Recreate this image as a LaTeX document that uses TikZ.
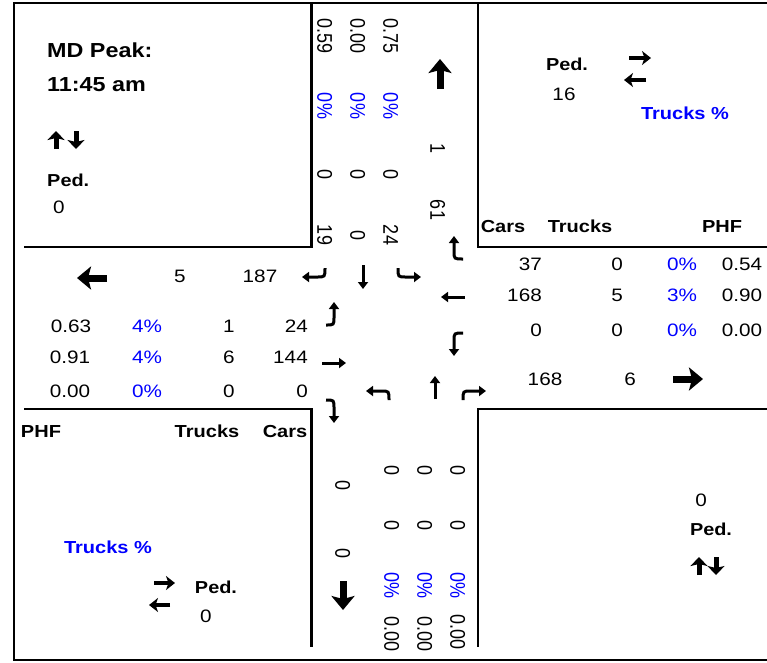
\documentclass[tikz,border=0pt]{standalone}
\usepackage{fontspec}
\setmainfont{Liberation Sans}
\usetikzlibrary{arrows.meta}
\begin{document}
\begin{tikzpicture}[x=1pt,y=-1pt,
  every node/.style={inner sep=0pt,text height=13pt,text depth=0pt},
  txt/.style={xscale=1.15,font=\fontsize{18}{20}\selectfont},
  btxt/.style={xscale=1.15,font=\fontsize{17.4}{20}\selectfont\bfseries},
  ttl/.style={xscale=1.15,font=\fontsize{20.3}{22}\selectfont\bfseries,text height=14.5pt},
  ped/.style={xscale=1.15,font=\fontsize{17.3}{20}\selectfont\bfseries},
  rot/.style={rotate=-90,yscale=1.18,font=\fontsize{18}{20}\selectfont},
  blu/.style={text=blue},
  frame/.style={line width=2.6pt},
  bigarr/.style={line width=7pt,-{Stealth[length=14pt,width=23pt,inset=3pt]}},
  medarr/.style={line width=5pt,-{Stealth[length=9pt,width=17pt,inset=2pt]}},
  smarr/.style={line width=4pt,-{Stealth[length=9pt,width=14pt,inset=2.5pt]}},
  turn/.style={line width=3pt,-{Triangle[length=7pt,width=10pt]}}]
\useasboundingbox (0,0) rectangle (767,662);
% frame
\draw[frame] (780,3) -- (14,3) -- (14,660) -- (780,660);
\draw[frame] (311.5,3) -- (311.5,247) -- (24,247);
\draw[frame] (478,3) -- (478,247) -- (780,247);
\draw[frame] (24,409) -- (311.5,409) -- (311.5,647);
\draw[frame] (780,409) -- (478,409) -- (478,647);
% top-left box
\node[ttl,anchor=west] (tl1) at (47,50) {MD Peak:};
\node[ttl,anchor=west] (tl2) at (47,84) {11:45 am};
\node[ped,anchor=west] (tl3) at (47,180) {Ped.};
\node[txt] (tl4) at (59,207) {0};
\draw[medarr] (56,149) -- (56,131);
\draw[medarr] (76,131) -- (76,149);
% top-right box
\node[ped] (tr1) at (567,64) {Ped.};
\node[txt] (tr2) at (564,94) {16};
\node[btxt,blu] (tr3) at (685,113) {Trucks \%};
\draw[smarr] (629,58) -- (651,58);
\draw[smarr] (646,80) -- (624,80);
\node[btxt] (hr1) at (503,226) {Cars};
\node[btxt] (hr2) at (580,226) {Trucks};
\node[btxt] (hr3) at (722,226) {PHF};
% right rows
\node[txt,anchor=east] (r1a) at (542,264) {37};
\node[txt] (r1b) at (617,264) {0};
\node[txt,blu] (r1c) at (682,264) {0\%};
\node[txt] (r1d) at (742,264) {0.54};
\node[txt,anchor=east] (r2a) at (542,295) {168};
\node[txt] (r2b) at (617,295) {5};
\node[txt,blu] (r2c) at (682,295) {3\%};
\node[txt] (r2d) at (742,295) {0.90};
\node[txt,anchor=east] (r3a) at (542,330) {0};
\node[txt] (r3b) at (617,330) {0};
\node[txt,blu] (r3c) at (682,330) {0\%};
\node[txt] (r3d) at (742,330) {0.00};
\node[txt] (r4a) at (545,379) {168};
\node[txt] (r4b) at (630,379) {6};
\draw[bigarr] (673,379) -- (703,379);
% left rows
\draw[bigarr] (107,278) -- (77,278);
\node[txt] (l0a) at (180,276) {5};
\node[txt] (l0b) at (260,276) {187};
\node[txt] (l1a) at (71,326) {0.63};
\node[txt,blu] (l1b) at (147,326) {4\%};
\node[txt] (l1c) at (229,326) {1};
\node[txt,anchor=east] (l1d) at (308,326) {24};
\node[txt] (l2a) at (70,357) {0.91};
\node[txt,blu] (l2b) at (147,357) {4\%};
\node[txt] (l2c) at (229,357) {6};
\node[txt,anchor=east] (l2d) at (308,357) {144};
\node[txt] (l3a) at (70,391) {0.00};
\node[txt,blu] (l3b) at (147,391) {0\%};
\node[txt] (l3c) at (229,391) {0};
\node[txt,anchor=east] (l3d) at (308,391) {0};
\node[btxt] (hl1) at (41,431) {PHF};
\node[btxt] (hl2) at (207,431) {Trucks};
\node[btxt] (hl3) at (285,431) {Cars};
% bottom-left box
\node[btxt,blu] (bl1) at (108,547) {Trucks \%};
\node[ped] (bl2) at (216,587) {Ped.};
\node[txt] (bl3) at (206,616) {0};
\draw[smarr] (154,583) -- (175,583);
\draw[smarr] (170,605) -- (149,605);
% bottom-right box
\node[txt] (br1) at (701,500) {0};
\node[ped] (br2) at (711,529) {Ped.};
\draw[medarr] (699,575) -- (699,557);
\draw[medarr] (716,557) -- (716,575);
% top approach (rotated)
\node[rot] (n1a) at (325,36) {0.59};
\node[rot,blu] (n1b) at (325,106) {0\%};
\node[rot] (n1c) at (325,174) {0};
\node[rot] (n1d) at (325,235) {19};
\node[rot] (n2a) at (358,36) {0.00};
\node[rot,blu] (n2b) at (358,106) {0\%};
\node[rot] (n2c) at (358,174) {0};
\node[rot] (n2d) at (358,235) {0};
\node[rot] (n3a) at (391,36) {0.75};
\node[rot,blu] (n3b) at (391,106) {0\%};
\node[rot] (n3c) at (391,174) {0};
\node[rot] (n3d) at (391,235) {24};
\draw[bigarr] (440,89) -- (440,59);
\node[rot] (n4a) at (438,148) {1};
\node[rot] (n4b) at (438,210) {61};
% bottom approach (rotated)
\node[rot] (s0a) at (343,485) {0};
\node[rot] (s0b) at (343,553) {0};
\draw[bigarr] (343,581) -- (343,610);
\node[rot] (s1a) at (392,470) {0};
\node[rot] (s1b) at (392,525) {0};
\node[rot,blu] (s1c) at (392,585) {0\%};
\node[rot] (s1d) at (392,634) {0.00};
\node[rot] (s2a) at (425,470) {0};
\node[rot] (s2b) at (425,525) {0};
\node[rot,blu] (s2c) at (425,585) {0\%};
\node[rot] (s2d) at (425,634) {0.00};
\node[rot] (s3a) at (458,470) {0};
\node[rot] (s3b) at (458,525) {0};
\node[rot,blu] (s3c) at (458,585) {0\%};
\node[rot] (s3d) at (458,632) {0.00};
% turning movement arrows
\draw[turn] (325,268) .. controls (325,277) .. (317,277) -- (302,277);
\draw[turn] (363,265) -- (363,289);
\draw[turn] (398,268) .. controls (398,277) .. (406,277) -- (421,277);
\draw[turn] (463,259) .. controls (454,259) .. (454,251) -- (454,236);
\draw[turn] (465,297) -- (441,297);
\draw[turn] (463,333) .. controls (454,333) .. (454,341) -- (454,356);
\draw[turn] (389,400) .. controls (389,391) .. (381,391) -- (366,391);
\draw[turn] (435,399) -- (435,376);
\draw[turn] (463,400) .. controls (463,391) .. (471,391) -- (486,391);
\draw[turn] (326,325) .. controls (334,325) .. (334,317) -- (334,302);
\draw[turn] (322,363) -- (346,363);
\draw[turn] (326,400) .. controls (334,400) .. (334,408) -- (334,423);
\end{tikzpicture}
\end{document}
